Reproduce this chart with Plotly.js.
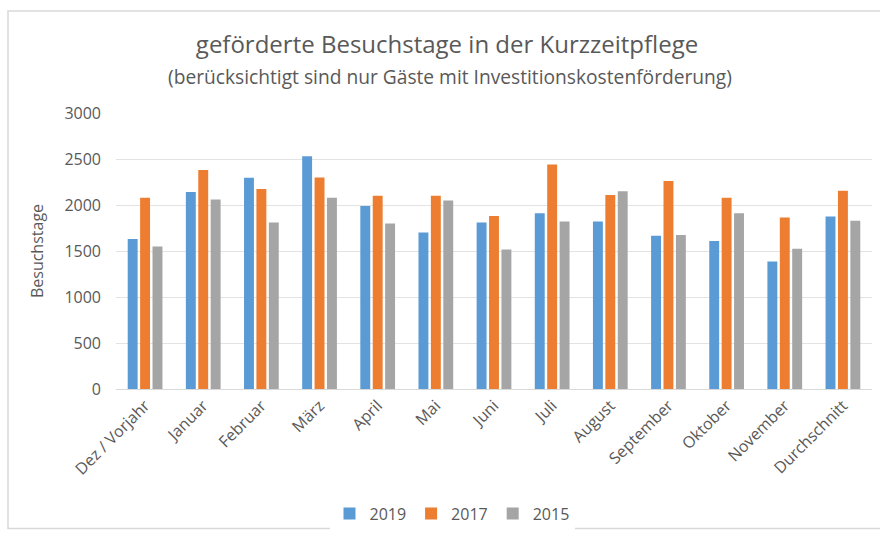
<!DOCTYPE html>
<html>
<head>
<meta charset="utf-8">
<script src="https://cdn.plot.ly/plotly-3.0.1.min.js"></script>
<style>html,body{margin:0;padding:0;background:#fff;}#chart{width:880px;height:539px;}</style>
</head>
<body>
<div id="chart"></div>
<script>
const categories = ["Dez / Vorjahr","Januar","Februar","März","April","Mai","Juni","Juli","August","September","Oktober","November","Durchschnitt"];
const values2019 = [1630,2140,2295,2530,1990,1700,1810,1910,1820,1665,1610,1385,1875];
const values2017 = [2080,2380,2175,2300,2100,2100,1880,2440,2110,2260,2080,1865,2155];
const values2015 = [1550,2060,1810,2080,1800,2050,1515,1820,2150,1675,1910,1525,1830];
const seriesNames = ["2019","2017","2015"];
const colors = ["#5B9BD5","#ED7D31","#A5A5A5"];

const font = "'Open Sans', sans-serif";
const traces = [values2019, values2017, values2015].map((v, i) => ({
  type: "bar", x: categories, y: v, name: seriesNames[i],
  marker: {color: colors[i]}, hoverinfo: "x+y+name"
}));

const layout = {
  width: 880, height: 539,
  margin: {l: 116, r: 8, t: 113, b: 147},
  paper_bgcolor: "#fff", plot_bgcolor: "#fff",
  font: {family: font, color: "#595959", size: 13},
  title: {text: "geförderte Besuchstage in der Kurzzeitpflege", x: 447/880, xref: "container", xanchor: "center",
          y: 1 - 45/539, yanchor: "middle", font: {size: 24, color: "#595959", family: font}},
  annotations: [{text: "(berücksichtigt sind nur Gäste mit Investitionskostenförderung)", xref: "paper", yref: "paper",
    x: (450-116)/756, y: (392-76)/279, xanchor: "center", yanchor: "middle", showarrow: false,
    font: {size: 19.2, color: "#595959", family: font}}],
  barmode: "group", bargap: 0.36, bargroupgap: 0.2,
  xaxis: {type: "category", tickangle: -45, showline: true, linecolor: "#d9d9d9", ticks: "",
          tickfont: {size: 16, color: "#595959"}, fixedrange: true},
  yaxis: {range: [0, 3000], dtick: 500, showgrid: true, gridcolor: "#e3e3e3", zeroline: false,
          tickfont: {size: 16, color: "#595959"}, ticks: "", ticklabelstandoff: 14,
          title: {text: "Besuchstage", font: {size: 16, color: "#595959"}, standoff: 16}},
  legend: {orientation: "h", x: (452-116)/756, xanchor: "center", y: -(518-392)/279, yanchor: "middle",
           font: {size: 16, color: "#595959"}, itemwidth: 30, traceorder: "normal"},
  shapes: [{type: "rect", xref: "paper", yref: "paper", x0: (8-116)/756, x1: (900-116)/756,
            y0: (392-533)/279, y1: (392-10)/279, line: {color: "#d9d9d9", width: 1.5}, fillcolor: "rgba(0,0,0,0)", layer: "below"}]
};
Plotly.newPlot("chart", traces, layout, {displayModeBar: false, staticPlot: true});
</script>
</body>
</html>
